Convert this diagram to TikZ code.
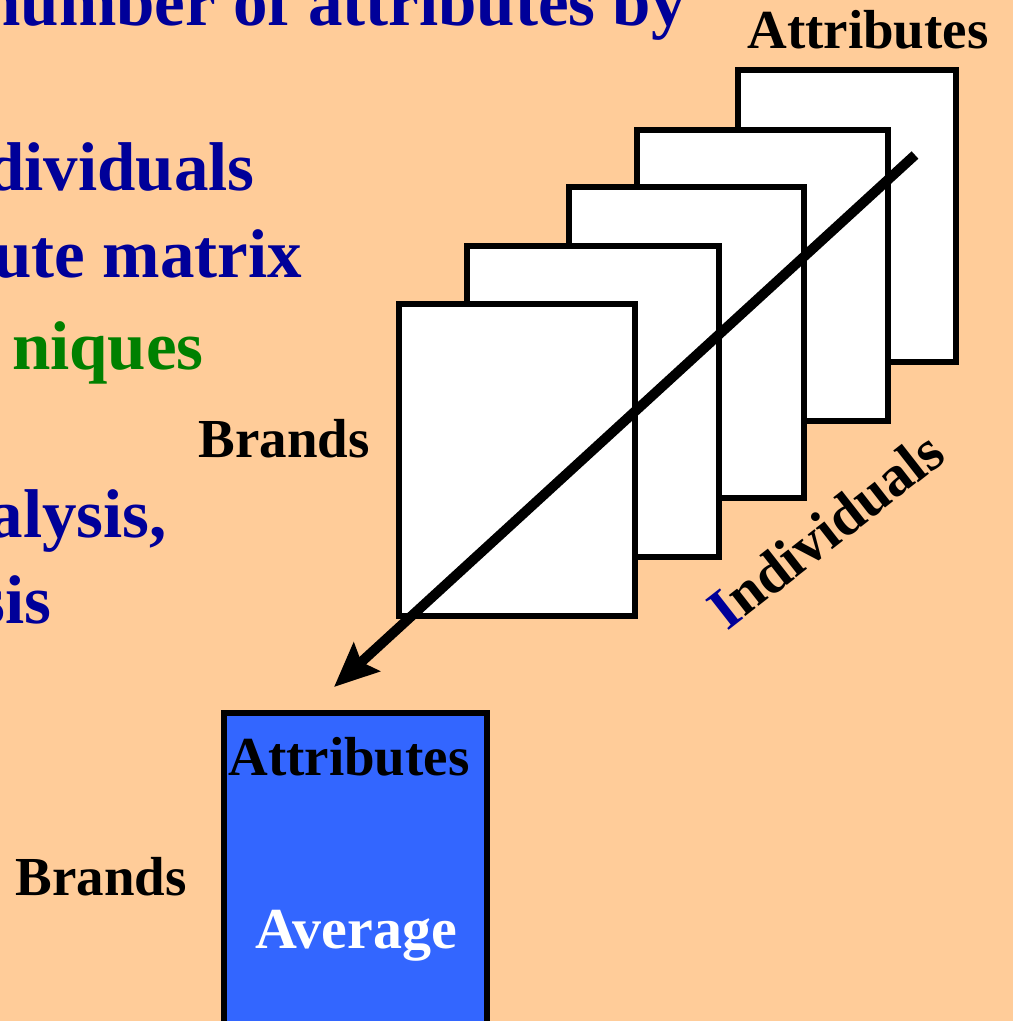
\documentclass[tikz,border=0pt]{standalone}
\usepackage{fontspec}
\setmainfont{Liberation Serif}
\usepackage{xcolor}
\usetikzlibrary{arrows.meta}

\definecolor{slidebg}{RGB}{255,204,153}
\definecolor{slideblue}{RGB}{0,0,153}
\definecolor{slidegreen}{RGB}{0,128,0}
\definecolor{avgblue}{RGB}{51,102,255}

\begin{document}
\begin{tikzpicture}[
  x=1pt, y=-1pt,
  page/.style={draw, line width=5.5pt, fill=white, rectangle, inner sep=0pt},
  avgbox/.style={draw, line width=5.5pt, fill=avgblue, rectangle, inner sep=0pt},
  lbl/.style={inner sep=0pt, font=\fontsize{55}{60}\selectfont\bfseries},
  bigtxt/.style={inner sep=0pt, anchor=base east, text=slideblue,
    font=\fontsize{69}{76}\selectfont\bfseries},
  arrow/.style={line width=10pt, -{Stealth[length=44pt,width=38pt,inset=7pt]}}
]
  \useasboundingbox (0,0) rectangle (1013,1021);
  \clip (0,0) rectangle (1013,1021);
  \fill[slidebg] (0,0) rectangle (1013,1021);

  % text of the slide, cut at the left edge
  \node[bigtxt] (line1) at (686,25)  {number of attributes by};
  \node[bigtxt] (line2) at (255,190) {dividuals};
  \node[bigtxt] (line3) at (302,277) {ute matrix};
  \node[bigtxt, text=slidegreen] (line4) at (204,369) {niques};
  \node[bigtxt] (line5) at (167,537) {alysis,};
  \node[bigtxt] (line6) at (52,623)  {sis};

  % stack of brand x attribute matrices
  \node[page, minimum width=218pt, minimum height=292pt] (p1) at (847,216) {};
  \node[page, minimum width=251pt, minimum height=291pt] (p2) at (762.5,275.5) {};
  \node[page, minimum width=235pt, minimum height=311pt] (p3) at (686.5,342.5) {};
  \node[page, minimum width=252pt, minimum height=311pt] (p4) at (593,401.5) {};
  \node[page, minimum width=236pt, minimum height=312pt] (p5) at (517,460) {};

  \node[lbl, anchor=base] (attrtop) at (868,48) {Attributes};
  \node[lbl, anchor=base] (brandtop) at (284,457) {Brands};
  \node[lbl, anchor=base west, rotate=38, font=\fontsize{58}{60}\selectfont\bfseries]
    (indiv) at (727,632) {\textcolor{slideblue}{I}ndividuals};

  % averaged matrix
  \node[avgbox, minimum width=263pt, minimum height=330pt] (avg) at (355.5,878) {};
  \node[lbl, anchor=base] (attrbot) at (349,775) {Attributes};
  \node[lbl, anchor=base, text=white, font=\fontsize{58}{60}\selectfont\bfseries]
    (avgtxt) at (356,948) {Average};
  \node[lbl, anchor=base] (brandbot) at (101,895) {Brands};

  \coordinate (arrowstart) at (915,155);
  \coordinate (arrowend) at (334,687);
  \draw[arrow] (arrowstart) -- (arrowend);
\end{tikzpicture}
\end{document}
